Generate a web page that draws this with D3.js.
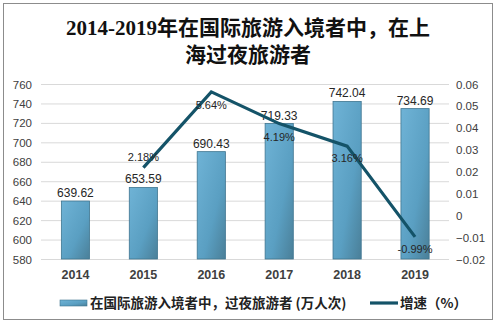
<!DOCTYPE html>
<html><head><meta charset="utf-8">
<script src="https://cdn.jsdelivr.net/npm/d3@7/dist/d3.min.js"></script>
<style>body{margin:0;background:#fff}svg{display:block}</style>
</head><body>
<svg id="c" width="497" height="324"></svg>
<script>
const years = ["2014","2015","2016","2017","2018","2019"];
const visitors = [639.62, 653.59, 690.43, 719.33, 742.04, 734.69];
const growth = [null, 0.0218, 0.0564, 0.0419, 0.0316, -0.0099];
const growthLabels = ["", "2.18%", "5.64%", "4.19%", "3.16%", "-0.99%"];
const leftTicks = [580,600,620,640,660,680,700,720,740,760];
const rightTicks = [-0.02,-0.01,0,0.01,0.02,0.03,0.04,0.05,0.06];
const titleLines = ["2014-2019年在国际旅游入境者中，在上","海过夜旅游者"];
const legendLabels = ["在国际旅游入境者中，过夜旅游者 (万人次)","增速（%）"];

const svg = d3.select("#c");
const font = "'Liberation Sans', Arial, 'Noto Sans CJK SC', sans-serif";

// frame
svg.append("rect").attr("x",3.5).attr("y",3.5).attr("width",489).attr("height",316)
  .attr("fill","#fff").attr("stroke","#8c8c8c").attr("stroke-width",1);

// title
svg.append("g").selectAll("text").data(titleLines).join("text")
  .attr("x",248).attr("y",(d,i)=>35+i*27).attr("text-anchor","middle")
  .attr("font-family","'Liberation Serif','DejaVu Serif','Noto Sans CJK SC',serif")
  .attr("font-size",21).attr("font-weight","bold").attr("fill","#111").text(d=>d);

const x = d3.scaleBand().domain(years).range([41.5,449]).paddingInner(0.585).paddingOuter(0.2925);
const y = d3.scaleLinear().domain([580,760]).range([259,84]);
const y2 = d3.scaleLinear().domain([-0.02,0.06]).range([259,84]);

// gradient
const defs = svg.append("defs");
const g = defs.append("linearGradient").attr("id","bg").attr("x1","0").attr("y1","0").attr("x2","1").attr("y2","1");
g.append("stop").attr("offset","0%").attr("stop-color","#6fb3d6");
g.append("stop").attr("offset","60%").attr("stop-color","#5a9fc2");
g.append("stop").attr("offset","100%").attr("stop-color","#4a7f98");

// gridlines
svg.append("g").selectAll("line").data(leftTicks).join("line")
  .attr("x1",41).attr("x2",449).attr("y1",d=>y(d)+0.5).attr("y2",d=>y(d)+0.5)
  .attr("stroke","#d9d9d9").attr("stroke-width",1);

// left axis
const la = svg.append("g").attr("transform","translate(36,0)")
  .call(d3.axisLeft(y).tickValues(leftTicks).tickSize(0).tickPadding(4));
la.select(".domain").remove();
la.selectAll("text").attr("font-family",font).attr("font-size",11.5).attr("fill","#404040").attr("dy","0.35em");

// right axis
const ra = svg.append("g").attr("transform","translate(456,0)")
  .call(d3.axisRight(y2).tickValues(rightTicks).tickSize(0).tickPadding(0).tickFormat(d=>d===0?"0":d3.format(".2f")(d)));
ra.select(".domain").remove();
ra.selectAll("text").attr("font-family",font).attr("font-size",11.5).attr("fill","#404040").attr("dy","0.35em");

// x axis labels
const xa = svg.append("g").attr("transform","translate(0,266)")
  .call(d3.axisBottom(x).tickSize(0).tickPadding(4));
xa.select(".domain").remove();
xa.selectAll("text").attr("font-family",font).attr("font-size",12.5).attr("font-weight","bold").attr("fill","#404040");

// bars
svg.append("g").selectAll("rect").data(years).join("rect")
  .attr("x",d=>x(d)).attr("y",(d,i)=>y(visitors[i]))
  .attr("width",x.bandwidth()).attr("height",(d,i)=>y(580)-y(visitors[i]))
  .attr("fill","url(#bg)").attr("stroke","#3f7590").attr("stroke-width",0.8);

// bar labels
svg.append("g").selectAll("text").data(years).join("text")
  .attr("x",d=>x(d)+x.bandwidth()/2).attr("y",(d,i)=>y(visitors[i])-4)
  .attr("text-anchor","middle").attr("font-family",font).attr("font-size",12)
  .attr("fill","#262626").text((d,i)=>visitors[i].toFixed(2));

// line
const pts = years.map((d,i)=>({d, v:growth[i], l:growthLabels[i]})).filter(p=>p.v!==null);
const line = d3.line().x(p=>x(p.d)+x.bandwidth()/2).y(p=>y2(p.v));
svg.append("path").datum(pts).attr("d",line).attr("fill","none")
  .attr("stroke","#145368").attr("stroke-width",3.2).attr("stroke-linejoin","miter");

// line labels
const offs = {"2015":-7, "2016":17, "2017":17, "2018":16, "2019":16};
svg.append("g").selectAll("text").data(pts).join("text")
  .attr("x",p=>x(p.d)+x.bandwidth()/2).attr("y",p=>y2(p.v)+offs[p.d])
  .attr("text-anchor","middle").attr("font-family",font).attr("font-size",11)
  .attr("fill","#262626").text(p=>p.l);

// legend
const lg = svg.append("g");
lg.append("rect").attr("x",60).attr("y",300).attr("width",27).attr("height",6)
  .attr("fill","url(#bg)").attr("stroke","#3f7590").attr("stroke-width",0.6);
lg.append("text").attr("x",90).attr("y",308).attr("font-family","'Noto Sans CJK SC',sans-serif")
  .attr("font-size",13.5).attr("font-weight","bold").attr("fill","#222").text(legendLabels[0]);
lg.append("line").attr("x1",370).attr("x2",398).attr("y1",303).attr("y2",303)
  .attr("stroke","#145368").attr("stroke-width",3.2);
lg.append("text").attr("x",400).attr("y",308).attr("font-family","'Noto Sans CJK SC',sans-serif")
  .attr("font-size",13.5).attr("font-weight","bold").attr("fill","#222").text(legendLabels[1]);
</script>
</body></html>
